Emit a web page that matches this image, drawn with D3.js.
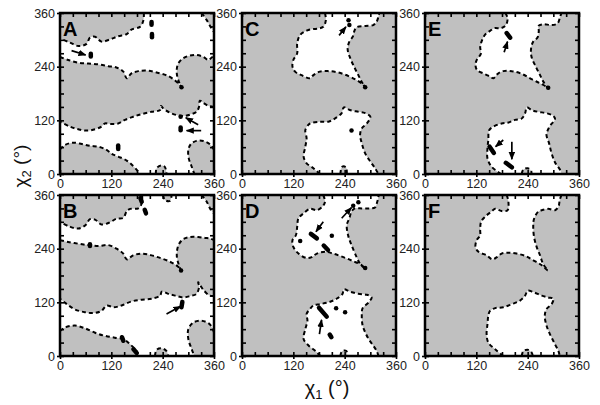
<!DOCTYPE html>
<html><head><meta charset="utf-8">
<script src="https://cdn.jsdelivr.net/npm/d3@7"></script>
<style>body{margin:0;background:#fff}svg{display:block}text{font-family:Arial,"Liberation Sans",sans-serif}</style>
</head><body>
<svg id="chart" width="600" height="405"></svg>
<script>
const panelLabels = ["A","B","C","D","E","F"];
const tickLabels = [0,120,240,360];
const minorTicks = [0,30,60,90,120,150,180,210,240,270,300,330,360];

// ---- Panel A boundaries (chi1, chi2 in degrees) ----
const A_topLeft = [[196,360],[195,344],[187,329],[167,323],[156,313],[136,308],[117,301],[97,296],[82,307],[70,305],[62,291],[43,286],[23,294],[0,303]];
const A_topRight = [[331,360],[343,344],[354,326],[360,318]];
const A_bandTop = [[0,262],[19,255],[43,249],[66,247],[90,245],[113,241],[132,238],[148,229],[156,214],[167,225],[183,230],[206,231],[230,226],[253,219],[269,209],[280,199],[284,194],[278,206],[273,225],[275,244],[284,256],[300,264],[319,266],[335,262],[347,255],[354,260],[360,264]];
const A_bandBottom = [[360,150],[348,152],[335,159],[327,164],[325,150],[319,139],[308,134],[292,130],[277,131],[257,137],[241,147],[236,152],[234,143],[214,139],[191,134],[171,128],[152,121],[136,113],[117,112],[105,113],[97,106],[82,100],[62,97],[43,100],[23,106],[0,117]];
const A_bottomLeft = [[0,55],[12,65],[31,70],[51,67],[70,63],[90,61],[109,54],[121,45],[136,39],[156,30],[171,18],[183,5],[187,0]];
const A_bottomRight = [[360,54],[351,66],[335,74],[319,74],[306,67],[300,54],[301,35],[308,16],[314,0]];
const A_bump = [[224,0],[226,13],[236,19],[245,16],[249,0]];
const A_marks = [[214,334,214,340],[215,306,215,313],[72,263,72,269],[284,194,284,194],[282,128,282,128],[282,98,282,104],[136,56,136,64]];
const A_arrows = [[27,276,60,266],[323,110,294,126],[330,97,296,97]];

// ---- Panel B ----
const B_topLeft = [[192,360],[191,341],[183,330],[164,329],[156,324],[148,309],[132,307],[117,299],[97,294],[82,305],[70,306],[60,293],[43,285],[23,289],[0,300]];
const B_topRight = [[331,360],[343,345],[353,326],[360,319]];
const B_topBump = [[241,360],[245,349],[257,347],[261,360]];
const B_bandTop = [[0,259],[19,255],[43,251],[66,248],[90,246],[113,248],[132,240],[148,229],[156,216],[171,225],[191,229],[214,225],[238,218],[261,209],[277,199],[283,191],[278,203],[273,225],[277,248],[288,261],[304,266],[323,266],[339,264],[350,263],[360,259]];
const B_bandBottom = [[360,135],[350,135],[335,148],[323,165],[325,155],[319,139],[304,134],[288,131],[269,135],[253,139],[238,144],[234,135],[214,128],[191,126],[167,122],[144,113],[125,109],[109,113],[97,101],[78,96],[58,98],[35,104],[16,116],[0,128]];
const B_bottomLeft = [[0,56],[12,64],[35,68],[58,62],[82,52],[105,45],[128,41],[148,38],[164,26],[179,11],[183,0]];
const B_bottomRight = [[360,53],[350,71],[331,79],[312,75],[300,60],[300,38],[308,15],[314,0]];
const B_bump = [[222,0],[226,14],[238,17],[249,11],[253,0]];
const B_marks = [[188,353,191,345],[198,327,201,319],[70,246,70,250],[286,121,284,109],[145,42,148,34],[172,15,179,7],[283,191,283,191]];
const B_arrows = [[249,94,282,111]];

// ---- Panel C ----
const C_upper = [[194,360],[196,344],[190,329],[175,325],[155,322],[136,311],[129,292],[129,270],[120,255],[118,240],[124,229],[139,221],[159,214],[167,221],[182,229],[202,230],[225,227],[249,219],[268,210],[282,201],[288,194],[280,206],[272,221],[262,240],[253,259],[247,279],[251,296],[259,307],[262,318],[268,328],[288,331],[307,333],[315,341],[319,352],[321,360]];
const C_lower = [[182,0],[167,13],[151,24],[144,39],[148,61],[151,80],[148,98],[155,110],[159,113],[182,117],[202,117],[217,124],[233,136],[238,149],[252,143],[272,139],[288,136],[300,128],[292,113],[280,102],[276,87],[280,69],[288,46],[300,28],[311,13],[319,0]];
const C_bump = [[230,0],[234,16],[243,15],[245,0]];
const C_marks = [[256,97,256,97],[249,344,249,344],[251,333,251,333],[288,194,288,194]];
const C_arrows = [[227,310,243,329]];

// ---- Panel D ----
const D_upper = [[190,360],[194,345],[188,334],[175,326],[159,329],[144,319],[132,308],[129,289],[126,270],[118,259],[120,244],[132,229],[151,219],[163,221],[175,229],[194,233],[213,229],[237,221],[260,212],[280,203],[288,195],[276,206],[268,221],[256,248],[248,270],[245,293],[251,308],[256,323],[264,330],[280,330],[299,330],[311,332],[315,341],[319,356],[319,360]];
const D_lower = [[183,0],[172,11],[156,23],[144,38],[148,60],[153,79],[151,94],[159,105],[167,113],[182,116],[202,120],[221,128],[235,139],[238,149],[252,144],[272,139],[291,137],[303,131],[295,119],[282,107],[280,90],[282,68],[288,53],[296,38],[307,23],[315,11],[319,0]];
const D_bump = [[230,0],[234,11],[244,11],[246,0]];
const D_marks = [[161,273,175,263],[191,247,201,237],[136,257,136,257],[210,269,210,269],[260,336,260,336],[272,344,272,344],[288,197,288,197],[180,108,198,88],[220,107,220,107],[241,98,241,98],[205,48,209,42]];
const D_arrows = [[233,308,256,332],[190,300,173,278],[181,49,186,81]];

// ---- Panel E ----
const E_upper = [[188,360],[193,348],[189,333],[178,326],[162,326],[152,320],[140,311],[133,298],[129,283],[131,270],[121,255],[118,244],[122,232],[136,225],[152,218],[160,214],[170,224],[183,230],[203,230],[226,224],[249,212],[269,203],[284,195],[288,191],[277,206],[269,221],[259,240],[249,262],[248,281],[253,296],[263,305],[266,320],[265,331],[277,335],[296,333],[310,337],[316,352],[319,360]];
const E_lower = [[178,0],[156,16],[146,35],[146,57],[148,76],[150,98],[160,106],[179,113],[195,115],[210,121],[226,124],[234,136],[238,149],[249,143],[265,139],[284,136],[300,130],[304,122],[294,110],[287,98],[284,87],[290,69],[296,46],[305,24],[316,9],[319,0]];
const E_bump = [[226,0],[230,10],[240,13],[248,7],[249,0]];
const E_marks = [[191,315,199,305],[288,193,288,193],[151,61,161,47],[189,25,203,15]];
const E_arrows = [[185,272,193,296],[183,76,165,61],[203,72,203,33]];

// ---- Panel F ----
const F_upper = [[191,360],[195,345],[193,326],[179,324],[164,329],[154,322],[140,311],[131,300],[129,281],[129,270],[121,259],[118,244],[125,233],[144,225],[157,216],[168,221],[179,229],[195,231],[214,229],[234,224],[253,214],[273,203],[287,191],[276,206],[269,225],[261,244],[255,266],[253,289],[255,307],[265,323],[273,326],[288,329],[304,326],[312,334],[315,349],[319,360]];
const F_lower = [[183,0],[164,15],[148,30],[144,49],[146,71],[148,90],[152,101],[164,107],[183,109],[203,116],[222,124],[234,135],[240,146],[253,143],[273,135],[288,131],[300,128],[296,116],[284,105],[280,90],[284,68],[292,49],[304,26],[312,11],[315,0]];
const F_bump = [[226,0],[230,11],[240,14],[249,8],[252,0]];
const F_marks = [];
const F_arrows = [];

// ---- layout & styles ----
const GRAY = "#c0c0c0", WHITE = "#ffffff";
const W = 154, H = 161;
const cols = [60, 242, 425], rows = [13, 195];

const panels = [
  {label:"A", c:0, r:0, bg:WHITE, regions:[
    {fill:GRAY, lines:[A_topLeft], corners:[[0,360]]},
    {fill:GRAY, lines:[A_topRight], corners:[[360,360]]},
    {fill:GRAY, lines:[A_bandTop, A_bandBottom], corners:[]},
    {fill:GRAY, lines:[A_bottomLeft], corners:[[0,0]]},
    {fill:GRAY, lines:[A_bottomRight], corners:[[360,0]]},
    {fill:GRAY, lines:[A_bump], corners:[]}], marks:A_marks, arrows:A_arrows},
  {label:"B", c:0, r:1, bg:WHITE, regions:[
    {fill:GRAY, lines:[B_topLeft], corners:[[0,360]]},
    {fill:GRAY, lines:[B_topRight], corners:[[360,360]]},
    {fill:GRAY, lines:[B_topBump], corners:[]},
    {fill:GRAY, lines:[B_bandTop, B_bandBottom], corners:[]},
    {fill:GRAY, lines:[B_bottomLeft], corners:[[0,0]]},
    {fill:GRAY, lines:[B_bottomRight], corners:[[360,0]]},
    {fill:GRAY, lines:[B_bump], corners:[]}], marks:B_marks, arrows:B_arrows},
  {label:"C", c:1, r:0, bg:GRAY, regions:[
    {fill:WHITE, lines:[C_upper], corners:[]},
    {fill:WHITE, lines:[C_lower], corners:[]},
    {fill:GRAY, lines:[C_bump], corners:[]}], marks:C_marks, arrows:C_arrows},
  {label:"D", c:1, r:1, bg:GRAY, regions:[
    {fill:WHITE, lines:[D_upper], corners:[]},
    {fill:WHITE, lines:[D_lower], corners:[]},
    {fill:GRAY, lines:[D_bump], corners:[]}], marks:D_marks, arrows:D_arrows},
  {label:"E", c:2, r:0, bg:GRAY, regions:[
    {fill:WHITE, lines:[E_upper], corners:[]},
    {fill:WHITE, lines:[E_lower], corners:[]},
    {fill:GRAY, lines:[E_bump], corners:[]}], marks:E_marks, arrows:E_arrows},
  {label:"F", c:2, r:1, bg:GRAY, regions:[
    {fill:WHITE, lines:[F_upper], corners:[]},
    {fill:WHITE, lines:[F_lower], corners:[]},
    {fill:GRAY, lines:[F_bump], corners:[]}], marks:F_marks, arrows:F_arrows}
];

const svg = d3.select("#chart");
const defs = svg.append("defs");
defs.append("marker").attr("id","ah").attr("viewBox","0 0 10 8")
  .attr("refX",9).attr("refY",4).attr("markerWidth",8).attr("markerHeight",7)
  .attr("markerUnits","userSpaceOnUse").attr("orient","auto")
  .append("path").attr("d","M0,0L10,4L0,8Z").attr("fill","#000");

panels.forEach((p,i) => {
  const left = cols[p.c], top = rows[p.r];
  const x = d3.scaleLinear().domain([0,360]).range([left, left+W]);
  const y = d3.scaleLinear().domain([0,360]).range([top+H, top]);
  const line = d3.line().x(d=>x(d[0])).y(d=>y(d[1])).curve(d3.curveCatmullRom.alpha(0.5));

  defs.append("clipPath").attr("id","clip"+i).append("rect")
    .attr("x",left).attr("y",top).attr("width",W).attr("height",H);
  const g = svg.append("g").attr("clip-path",`url(#clip${i})`);
  g.append("rect").attr("x",left).attr("y",top).attr("width",W).attr("height",H).attr("fill",p.bg);

  p.regions.forEach(reg => {
    let d = reg.lines.map((l,k) => { const s = line(l); return k===0 ? s : s.replace(/^M/,"L"); }).join("");
    d += reg.corners.map(c => `L${x(c[0])},${y(c[1])}`).join("") + "Z";
    g.append("path").attr("d",d).attr("fill",reg.fill).attr("stroke","none");
  });
  p.regions.forEach(reg => {
    reg.lines.forEach(l => {
      g.append("path").attr("d",line(l)).attr("fill","none").attr("stroke","#000")
        .attr("stroke-width",2).attr("stroke-dasharray","4,3");
    });
  });
  g.selectAll("line.mark").data(p.marks).join("line").attr("class","mark")
    .attr("x1",d=>x(d[0])).attr("y1",d=>y(d[1])).attr("x2",d=>x(d[2])).attr("y2",d=>y(d[3]))
    .attr("stroke","#000").attr("stroke-width",4.5).attr("stroke-linecap","round");
  g.selectAll("line.arrow").data(p.arrows).join("line").attr("class","arrow")
    .attr("x1",d=>x(d[0])).attr("y1",d=>y(d[1])).attr("x2",d=>x(d[2])).attr("y2",d=>y(d[3]))
    .attr("stroke","#000").attr("stroke-width",1.7).attr("marker-end","url(#ah)");

  // axes
  const inner = (ax) => ax.tickValues(minorTicks).tickSize(-4).tickFormat(()=>"");
  const ab = svg.append("g").attr("transform",`translate(0,${top+H})`).call(inner(d3.axisBottom(x)));
  const at = svg.append("g").attr("transform",`translate(0,${top})`).call(inner(d3.axisTop(x)));
  const al = svg.append("g").attr("transform",`translate(${left},0)`).call(inner(d3.axisLeft(y)));
  const ar = svg.append("g").attr("transform",`translate(${left+W},0)`).call(inner(d3.axisRight(y)));
  const lb = svg.append("g").attr("transform",`translate(0,${top+H})`)
    .call(d3.axisBottom(x).tickValues(tickLabels).tickSize(3).tickPadding(2));
  const ll = svg.append("g").attr("transform",`translate(${left},0)`)
    .call(d3.axisLeft(y).tickValues(tickLabels).tickSize(3).tickPadding(2));
  [ab,at,al,ar,lb,ll].forEach(a => {
    a.select(".domain").remove();
    a.selectAll("line").attr("stroke","#000").attr("stroke-width",1.6);
  });
  [lb,ll].forEach(a => a.selectAll("text").attr("font-size",12.5).attr("fill","#222")
    .attr("font-family","Arial, 'Liberation Sans', sans-serif"));

  svg.append("rect").attr("x",left).attr("y",top).attr("width",W).attr("height",H)
    .attr("fill","none").attr("stroke","#000").attr("stroke-width",2.5);

  svg.append("text").attr("x",left+3).attr("y",top+23).text(p.label)
    .attr("font-size",20).attr("font-weight","bold").attr("fill","#000");
});

// axis titles
const yt = svg.append("text").attr("transform","translate(27,166) rotate(-90)")
  .attr("text-anchor","middle").attr("font-size",19).attr("fill","#111");
yt.append("tspan").text("χ");
yt.append("tspan").text("2").attr("font-size",13).attr("dy",4);
yt.append("tspan").text(" (°)").attr("dy",-4);

const xt = svg.append("text").attr("x",327).attr("y",395)
  .attr("text-anchor","middle").attr("font-size",20).attr("fill","#111");
xt.append("tspan").text("χ");
xt.append("tspan").text("1").attr("font-size",13).attr("dy",4);
xt.append("tspan").text(" (°)").attr("dy",-4);
</script>
</body></html>
